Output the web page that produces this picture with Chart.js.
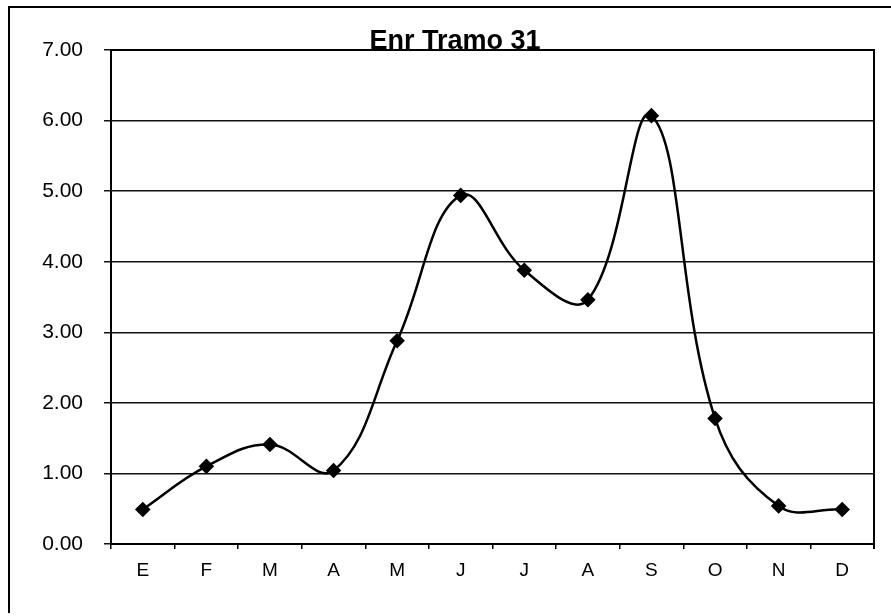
<!DOCTYPE html>
<html lang="es">
<head>
  <meta charset="UTF-8">
  <title>Enr Tramo 31</title>
  <script src="https://cdn.jsdelivr.net/npm/chart.js"></script>
  <style>
    body {
      margin: 0;
      background: #fff;
    }
    canvas {
      display: block;
    }
  </style>
</head>
<body>

<canvas id="grafico" width="891" height="616"></canvas>

<script>
  // datos
  const meses = ['E', 'F', 'M', 'A', 'M', 'J', 'J', 'A', 'S', 'O', 'N', 'D'];
  const enrTramo = [0.49, 1.10, 1.41, 1.04, 2.88, 4.94, 3.88, 3.46, 6.07, 1.78, 0.54, 0.49];
  const titulo = 'Enr Tramo 31';

  // marco exterior, borde del area de trazado y titulo
  const marco = {
    id: 'marco',
    beforeDraw(chart) {
      const ctx = chart.ctx;
      ctx.save();
      ctx.strokeStyle = '#000';
      ctx.lineWidth = 2;
      ctx.beginPath();
      ctx.moveTo(9, 613);
      ctx.lineTo(9, 7);
      ctx.lineTo(891, 7);
      ctx.stroke();
      ctx.restore();
    },
    afterDraw(chart) {
      const ctx = chart.ctx;
      const a = chart.chartArea;
      ctx.save();
      ctx.strokeStyle = '#000';
      ctx.lineWidth = 2;
      ctx.beginPath();
      ctx.moveTo(a.left, a.top);
      ctx.lineTo(a.right, a.top);
      ctx.lineTo(a.right, a.bottom + 5);
      ctx.stroke();
      ctx.fillStyle = '#000';
      ctx.font = 'bold 27px "Liberation Sans", Arial, sans-serif';
      ctx.textAlign = 'center';
      ctx.textBaseline = 'alphabetic';
      ctx.fillText(titulo, 455, 49);
      ctx.restore();
    }
  };

  const ctx = document.getElementById('grafico').getContext('2d');

  new Chart(ctx, {
    type: 'line',
    data: {
      labels: meses,
      datasets: [{
        label: titulo,
        data: enrTramo,
        borderColor: '#000',
        borderWidth: 2.5,
        backgroundColor: '#000',
        pointStyle: 'rectRot',
        pointRadius: 6,
        pointBackgroundColor: '#000',
        pointBorderColor: '#000',
        tension: 0.4,
        clip: false
      }]
    },
    options: {
      responsive: false,
      animation: false,
      devicePixelRatio: 1,
      layout: {
        padding: { top: 50, right: 17, bottom: 0, left: 0 }
      },
      plugins: {
        legend: { display: false },
        title: { display: false },
        tooltip: { enabled: false }
      },
      scales: {
        x: {
          offset: true,
          afterFit: (scale) => { scale.height = 72; },
          grid: {
            offset: true,
            drawOnChartArea: false,
            drawTicks: true,
            tickLength: 5,
            color: '#000',
            lineWidth: 1.5
          },
          border: { display: true, color: '#000', width: 2 },
          ticks: {
            color: '#000',
            padding: 10,
            font: { family: '"Liberation Sans", Arial, sans-serif', size: 19 }
          }
        },
        y: {
          min: 0,
          max: 7,
          afterFit: (scale) => { scale.width = 111; },
          grid: {
            color: '#111',
            lineWidth: 1.5,
            drawTicks: true,
            tickLength: 7
          },
          border: { display: true, color: '#000', width: 2 },
          ticks: {
            stepSize: 1,
            color: '#000',
            padding: 21,
            font: { family: '"Liberation Sans", Arial, sans-serif', size: 21 },
            callback: (v) => v.toFixed(2)
          }
        }
      }
    },
    plugins: [marco]
  });
</script>

</body>
</html>
